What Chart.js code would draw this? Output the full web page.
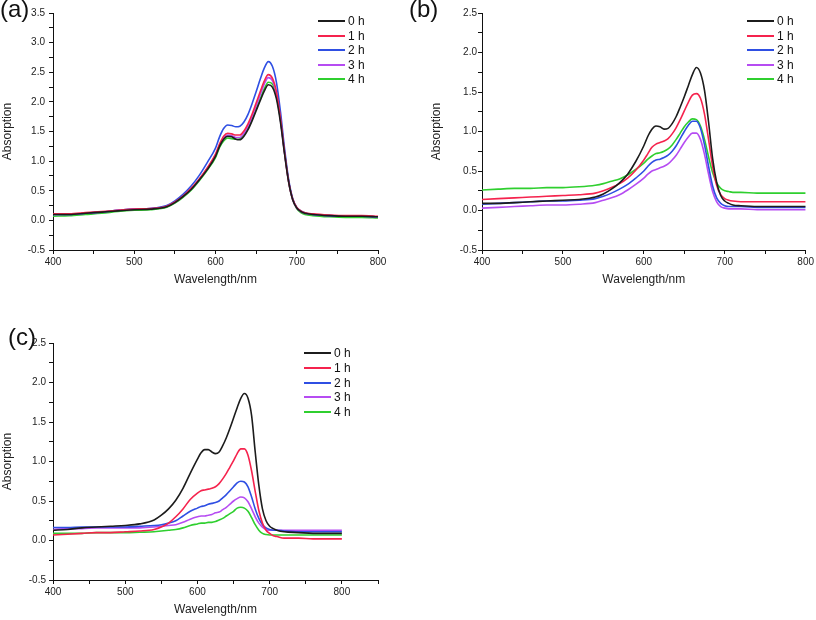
<!DOCTYPE html>
<html><head><meta charset="utf-8">
<script src="https://cdn.jsdelivr.net/npm/chart.js@4.4.1/dist/chart.umd.min.js"></script>
<style>
html,body{margin:0;padding:0;background:#fff;}
body{width:816px;height:620px;position:relative;overflow:hidden;font-family:"Liberation Sans",Arial,sans-serif;}
canvas{position:absolute;}
.plbl{position:absolute;font-size:24px;line-height:1;color:#111;white-space:nowrap;}
.leg{position:absolute;font-size:12px;color:#111;}
.row{position:absolute;left:0;height:14px;width:60px;white-space:nowrap;}
.ln{position:absolute;left:0;top:6px;height:2px;}
.tx{position:absolute;top:0;line-height:14px;}
</style></head><body>
<canvas id="ca" width="400" height="295" style="left:0;top:0"></canvas>
<canvas id="cb" width="416" height="295" style="left:400px;top:0"></canvas>
<canvas id="cc" width="400" height="320" style="left:0;top:300px"></canvas>
<div class="plbl" style="left:0;top:-3px">(a)</div>
<div class="plbl" style="left:409px;top:-3px">(b)</div>
<div class="plbl" style="left:8px;top:325px">(c)</div>
<div class="leg" id="lega" style="left:318px;top:14px"></div>
<div class="leg" id="legb" style="left:747px;top:14px"></div>
<div class="leg" id="legc" style="left:304px;top:346px"></div>
<script>
// ---- data ----
const wavelength = [400,420,440,460,480,500,520,540,550,560,570,580,590,600,605,610,615,620,625,630,635,640,645,650,655,660,665,670,675,680,685,690,695,700,705,710,720,740,760,780,800];
const seriesLabels = ['0 h','1 h','2 h','3 h','4 h'];
const seriesColors = ['#1c1c1c','#f5234d','#2f4fe3','#b64cf2','#2fcf2f'];
const xTickLabels = ['400','500','600','700','800'];

// panel (a)
const a_0h = [.10,.10,.12,.14,.16,.18,.19,.23,.30,.40,.52,.68,.86,1.08,1.25,1.37,1.42,1.41,1.37,1.36,1.42,1.53,1.68,1.85,2.02,2.18,2.29,2.25,2.05,1.65,1.12,.65,.35,.21,.15,.12,.10,.08,.07,.07,.06];
const a_1h = [.11,.11,.13,.15,.17,.19,.20,.24,.31,.41,.54,.70,.89,1.12,1.29,1.42,1.47,1.46,1.44,1.44,1.51,1.63,1.79,1.98,2.17,2.35,2.46,2.40,2.17,1.72,1.15,.66,.36,.22,.16,.13,.11,.09,.08,.08,.07];
const a_2h = [.10,.10,.12,.14,.17,.19,.20,.25,.33,.44,.58,.76,.98,1.22,1.41,1.55,1.61,1.60,1.58,1.59,1.66,1.79,1.97,2.17,2.38,2.57,2.68,2.60,2.33,1.83,1.21,.69,.37,.22,.16,.13,.10,.08,.07,.07,.06];
const a_3h = [.10,.10,.12,.14,.17,.19,.20,.24,.31,.41,.53,.69,.88,1.10,1.27,1.39,1.44,1.43,1.40,1.40,1.47,1.59,1.75,1.93,2.12,2.30,2.41,2.36,2.13,1.69,1.13,.65,.35,.21,.15,.12,.10,.08,.07,.07,.06];
const a_4h = [.07,.08,.10,.12,.15,.17,.18,.22,.29,.39,.51,.67,.85,1.06,1.23,1.34,1.39,1.38,1.37,1.38,1.45,1.56,1.71,1.88,2.05,2.22,2.33,2.30,2.10,1.70,1.15,.66,.35,.20,.13,.10,.08,.06,.05,.05,.04];

// panel (b)
const b_0h = [.09,.09,.10,.11,.12,.13,.14,.17,.21,.27,.35,.46,.62,.82,.94,1.03,1.07,1.06,1.03,1.04,1.10,1.19,1.31,1.44,1.58,1.72,1.81,1.74,1.52,1.12,.66,.36,.19,.12,.09,.07,.06,.05,.05,.05,.05];
const b_1h = [.14,.15,.16,.17,.18,.19,.20,.22,.25,.29,.34,.41,.51,.64,.72,.80,.84,.86,.88,.91,.97,1.05,1.15,1.26,1.37,1.46,1.48,1.42,1.22,.90,.56,.32,.20,.15,.13,.12,.11,.11,.11,.11,.11];
const b_2h = [.08,.09,.10,.11,.12,.12,.13,.15,.18,.22,.27,.33,.41,.50,.56,.61,.64,.65,.67,.70,.75,.82,.91,1.00,1.08,1.13,1.13,1.04,.83,.56,.31,.16,.09,.06,.05,.05,.05,.04,.04,.04,.04];
const b_3h = [.03,.04,.05,.06,.07,.07,.08,.10,.13,.16,.20,.26,.33,.41,.46,.50,.52,.54,.56,.59,.64,.70,.78,.86,.93,.98,.98,.90,.71,.46,.24,.11,.05,.03,.02,.02,.02,.01,.01,.01,.01];
const b_4h = [.26,.27,.28,.28,.29,.29,.30,.32,.34,.37,.40,.45,.52,.60,.65,.69,.72,.73,.75,.78,.83,.90,.98,1.06,1.12,1.16,1.15,1.07,.90,.68,.48,.35,.28,.25,.24,.23,.23,.22,.22,.22,.22];

// panel (c)
const c_0h = [.13,.14,.16,.17,.18,.19,.21,.26,.32,.40,.51,.66,.85,1.03,1.11,1.15,1.15,1.12,1.10,1.12,1.20,1.30,1.42,1.55,1.68,1.80,1.86,1.80,1.58,1.12,.70,.40,.25,.18,.15,.13,.11,.10,.09,.09,.09];
const c_1h = [.07,.08,.09,.10,.10,.11,.12,.14,.17,.22,.30,.40,.52,.60,.63,.64,.65,.66,.68,.72,.78,.85,.93,1.01,1.10,1.16,1.16,1.08,.88,.62,.38,.22,.13,.09,.06,.05,.03,.03,.02,.02,.02];
const c_2h = [.165,.165,.17,.17,.17,.17,.18,.19,.20,.22,.25,.31,.37,.41,.43,.44,.46,.47,.48,.50,.54,.58,.63,.68,.73,.75,.74,.68,.55,.40,.28,.20,.16,.14,.13,.13,.12,.11,.11,.11,.11];
const c_3h = [.14,.15,.15,.16,.16,.16,.16,.17,.18,.19,.20,.23,.27,.30,.31,.31,.32,.33,.35,.36,.39,.42,.46,.50,.53,.55,.54,.49,.40,.30,.22,.17,.14,.13,.13,.13,.13,.13,.13,.13,.13];
const c_4h = [.09,.09,.09,.10,.10,.10,.105,.11,.12,.13,.14,.16,.19,.21,.22,.22,.23,.23,.24,.26,.28,.31,.34,.37,.41,.42,.41,.37,.29,.20,.13,.09,.075,.07,.07,.07,.07,.07,.07,.07,.07];

// ---- drawing ----
Chart.defaults.font.family = '"Liberation Sans", Arial, sans-serif';

function makePanel(id, series, yMax, xMax, g) {
  const datasets = series.map((vals, i) => ({
    label: seriesLabels[i],
    data: wavelength.map((w, k) => ({x: w, y: vals[k]})),
    borderColor: seriesColors[i],
    borderWidth: 1.6,
    pointRadius: 0,
    fill: false,
    cubicInterpolationMode: 'monotone'
  }));
  return new Chart(document.getElementById(id), {
    type: 'line',
    data: {datasets},
    options: {
      responsive: false, animation: false, devicePixelRatio: 1,
      layout: {padding: {left: 0, right: g.padR, top: g.padT, bottom: 0}},
      plugins: {legend: {display: false}, tooltip: {enabled: false}},
      scales: {
        x: {
          type: 'linear', min: 400, max: xMax,
          grid: {drawOnChartArea: false, drawTicks: true, tickLength: 4, tickColor: '#111', color: '#111'},
          border: {display: true, color: '#111', width: 1},
          ticks: {stepSize: 50, autoSkip: false, maxRotation: 0, padding: 2, color: '#222', font: {size: 10},
                  callback: v => xTickLabels.includes(String(v)) ? String(v) : ''},
          title: {display: true, text: 'Wavelength/nm', color: '#222', font: {size: 12}, padding: {top: 0, bottom: g.xTitleBottom}},
          afterFit: s => { s.height = g.xHeight; }
        },
        y: {
          type: 'linear', min: -0.5, max: yMax,
          grid: {drawOnChartArea: false, drawTicks: true, tickLength: 4, tickColor: '#111', color: '#111'},
          border: {display: true, color: '#111', width: 1},
          ticks: {stepSize: 0.25, autoSkip: false, padding: g.yTickPad, color: '#222', font: {size: 10},
                  callback: v => Math.abs(v * 2 - Math.round(v * 2)) < 1e-6 ? v.toFixed(1) : ''},
          title: {display: true, text: 'Absorption', color: '#222', font: {size: 12}, padding: {top: g.yTitlePad, bottom: 0}},
          afterFit: s => { s.width = g.yWidth; }
        }
      }
    }
  });
}

function makeLegend(id, spacing) {
  const el = document.getElementById(id);
  seriesLabels.forEach((lab, i) => {
    const r = document.createElement('div');
    r.className = 'row';
    r.style.top = (i * spacing) + 'px';
    const ln = document.createElement('div');
    ln.className = 'ln';
    ln.style.width = '27px';
    ln.style.background = seriesColors[i];
    const tx = document.createElement('div');
    tx.className = 'tx';
    tx.style.left = '30px';
    tx.textContent = lab;
    r.appendChild(ln); r.appendChild(tx);
    el.appendChild(r);
  });
}

makePanel('ca', [a_0h, a_1h, a_2h, a_3h, a_4h], 3.5, 800,
  {padR: 22, padT: 13, xHeight: 45, yWidth: 53, yTickPad: 4, yTitlePad: 0, xTitleBottom: 8});
makePanel('cb', [b_0h, b_1h, b_2h, b_3h, b_4h], 2.5, 800,
  {padR: 9, padT: 13, xHeight: 45, yWidth: 82, yTickPad: 1, yTitlePad: 29, xTitleBottom: 8});
makePanel('cc', [c_0h, c_1h, c_2h, c_3h, c_4h], 2.5, 850,
  {padR: 22, padT: 43, xHeight: 40, yWidth: 53, yTickPad: 3, yTitlePad: 0, xTitleBottom: 3});

makeLegend('lega', 14.5);
makeLegend('legb', 14.5);
makeLegend('legc', 14.75);
</script>
</body></html>
